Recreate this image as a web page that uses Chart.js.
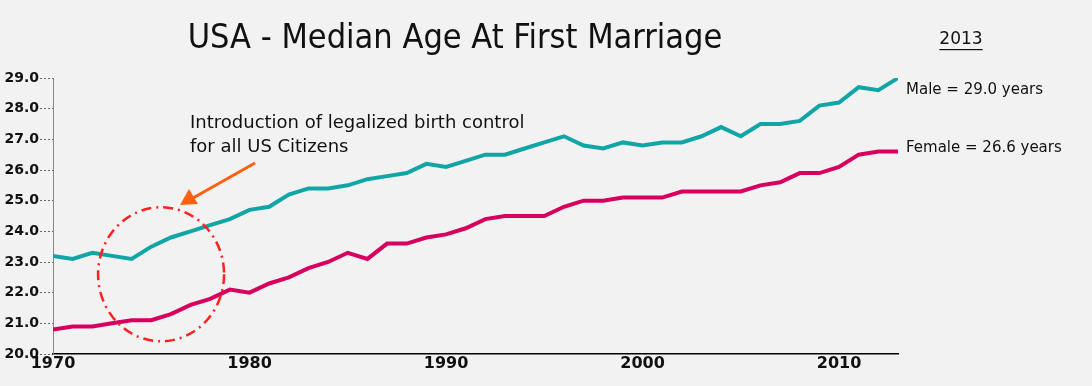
<!DOCTYPE html>
<html>
<head>
<meta charset="utf-8">
<script src="https://cdn.jsdelivr.net/npm/chart.js@4"></script>
<style>
  html, body { margin: 0; padding: 0; background: #f2f2f2; }
  #wrap { width: 1092px; height: 386px; position: relative; }
</style>
</head>
<body>
<div id="wrap"><canvas id="grafico"></canvas></div>
<script>
// datos
const anios = [1970, 1971, 1972, 1973, 1974, 1975, 1976, 1977, 1978, 1979,
               1980, 1981, 1982, 1983, 1984, 1985, 1986, 1987, 1988, 1989,
               1990, 1991, 1992, 1993, 1994, 1995, 1996, 1997, 1998, 1999,
               2000, 2001, 2002, 2003, 2004, 2005, 2006, 2007, 2008, 2009,
               2010, 2011, 2012, 2013];
const hombres = [23.2, 23.1, 23.3, 23.2, 23.1, 23.5, 23.8, 24.0, 24.2, 24.4,
                 24.7, 24.8, 25.2, 25.4, 25.4, 25.5, 25.7, 25.8, 25.9, 26.2,
                 26.1, 26.3, 26.5, 26.5, 26.7, 26.9, 27.1, 26.8, 26.7, 26.9,
                 26.8, 26.9, 26.9, 27.1, 27.4, 27.1, 27.5, 27.5, 27.6, 28.1,
                 28.2, 28.7, 28.6, 29.0];
const mujeres = [20.8, 20.9, 20.9, 21.0, 21.1, 21.1, 21.3, 21.6, 21.8, 22.1,
                 22.0, 22.3, 22.5, 22.8, 23.0, 23.3, 23.1, 23.6, 23.6, 23.8,
                 23.9, 24.1, 24.4, 24.5, 24.5, 24.5, 24.8, 25.0, 25.0, 25.1,
                 25.1, 25.1, 25.3, 25.3, 25.3, 25.3, 25.5, 25.6, 25.9, 25.9,
                 26.1, 26.5, 26.6, 26.6];
const aniosEje = [1970, 1980, 1990, 2000, 2010];
const etiquetas = ["Male = 29.0 years", "Female = 26.6 years"];
const titulo = "USA - Median Age At First Marriage";
const nota = ["Introduction of legalized birth control", "for all US Citizens"];

const fuente = "'DejaVu Sans', sans-serif";
const fuenteTitulo = "'DejaVu Sans Condensed', 'DejaVu Sans', sans-serif";

const extras = {
    id: 'extras',
    afterDraw(chart) {
        const ctx = chart.ctx;
        const x = chart.scales.x, y = chart.scales.y;
        ctx.save();

        // titulo
        ctx.fillStyle = '#111';
        ctx.textAlign = 'center';
        ctx.textBaseline = 'middle';
        ctx.font = '34px ' + fuenteTitulo;
        ctx.fillText(titulo, 455, 39);

        // 2013 subrayado
        ctx.font = '17px ' + fuente;
        ctx.fillText('2013', 961, 40);
        const w = ctx.measureText('2013').width;
        ctx.fillRect(961 - w / 2, 49, w, 1.2);

        // etiquetas de la derecha
        ctx.textAlign = 'left';
        ctx.font = '15px ' + fuente;
        ctx.fillText(etiquetas[0], 906, y.getPixelForValue(hombres[hombres.length - 1]) + 12);
        ctx.fillText(etiquetas[1], 906, y.getPixelForValue(mujeres[mujeres.length - 1]) - 3);

        // nota
        ctx.font = '18px ' + fuente;
        ctx.fillText(nota[0], 190, 123);
        ctx.fillText(nota[1], 190, 147);

        // flecha
        ctx.strokeStyle = '#ff6010';
        ctx.fillStyle = '#ff6010';
        ctx.lineWidth = 3;
        ctx.beginPath();
        ctx.moveTo(255, 163);
        ctx.lineTo(193, 198);
        ctx.stroke();
        ctx.beginPath();
        ctx.moveTo(180, 205);
        ctx.lineTo(189, 189);
        ctx.lineTo(198, 204);
        ctx.closePath();
        ctx.fill();

        // elipse punto-raya
        ctx.strokeStyle = '#ff2020';
        ctx.lineWidth = 2.5;
        ctx.setLineDash([10, 5, 2, 5]);
        ctx.beginPath();
        ctx.ellipse(x.getPixelForValue(1975.5), y.getPixelForValue(22.6), 63, 67, 0, 0, Math.PI * 2);
        ctx.stroke();

        ctx.restore();
    }
};

const ctx = document.getElementById('grafico').getContext('2d');
const miGrafico = new Chart(ctx, {
    type: 'line',
    data: {
        datasets: [{
            label: 'Male',
            data: anios.map((a, i) => ({ x: a, y: hombres[i] })),
            borderColor: '#12a5a5',
            borderWidth: 4,
            pointRadius: 0,
            tension: 0
        }, {
            label: 'Female',
            data: anios.map((a, i) => ({ x: a, y: mujeres[i] })),
            borderColor: '#d7005e',
            borderWidth: 4,
            pointRadius: 0,
            tension: 0
        }]
    },
    options: {
        responsive: true,
        maintainAspectRatio: false,
        animation: false,
        layout: { padding: { top: 78, right: 194, left: 0, bottom: 0 } },
        plugins: { legend: { display: false }, tooltip: { enabled: false } },
        scales: {
            x: {
                type: 'linear',
                min: 1970,
                max: 2013,
                afterBuildTicks: s => { s.ticks = aniosEje.map(v => ({ value: v })); },
                afterFit: s => { s.height = 32; },
                ticks: {
                    padding: 0,
                    maxRotation: 0,
                    color: '#111',
                    font: { family: fuente, size: 16, weight: 'bold' },
                    callback: v => String(v)
                },
                grid: { display: true, drawOnChartArea: false, drawTicks: false },
                border: { color: '#000', width: 1.5 }
            },
            y: {
                min: 20,
                max: 29,
                afterFit: s => { s.width = 53; },
                ticks: {
                    stepSize: 1,
                    padding: 1,
                    color: '#111',
                    font: { family: fuente, size: 14, weight: 'bold' },
                    callback: v => v.toFixed(1)
                },
                grid: {
                    drawOnChartArea: false,
                    drawTicks: true,
                    tickLength: 13,
                    tickColor: '#666',
                    tickBorderDash: [2, 2]
                },
                border: { color: '#888', width: 1 }
            }
        }
    },
    plugins: [extras]
});
</script>
</body>
</html>
